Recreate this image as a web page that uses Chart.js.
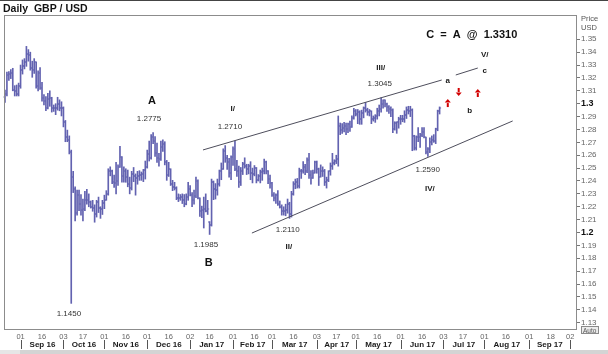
<!DOCTYPE html>
<html>
<head>
<meta charset="utf-8">
<script src="https://cdn.jsdelivr.net/npm/chart.js@4.4.0/dist/chart.umd.min.js"></script>
<style>
    html, body { margin: 0; padding: 0; background: #fff; }
</style>
</head>
<body>
<canvas id="gbpusd" width="608" height="354"></canvas>
<script>
// Daily GBP/USD, OHLC bars, Aug 22 2016 .. Jun 29 2017 (one value per weekday)
const firstDay = '2016-08-22';

const op = [
    1.3050,1.3075,1.3225,1.3230,1.3235, 1.3110,1.3100,1.3075,1.3135,1.3265,
    1.3290,1.3325,1.3385,1.3375,1.3275, 1.3265,1.3325,1.3140,1.3240,1.3125,
    1.3045,1.3020,1.2970,1.3035,1.3045, 1.2965,1.2970,1.2965,1.3000,1.2965,
    1.2970,1.2855,1.2745,1.2720,1.2625, 1.2430,1.2335,1.2155,1.2290,1.2225,
    1.2175,1.2180,1.2255,1.2255,1.2240, 1.2200,1.2190,1.2140,1.2240,1.2190,
    1.2180,1.2230,1.2255,1.2300,1.2475, 1.2480,1.2395,1.2385,1.2400,1.2505,
    1.2590,1.2440,1.2475,1.2430,1.2375, 1.2345,1.2455,1.2440,1.2420,1.2440,
    1.2445,1.2455,1.2485,1.2505,1.2610, 1.2580,1.2745,1.2710,1.2620,1.2575,
    1.2570,1.2665,1.2690,1.2550,1.2445, 1.2490,1.2380,1.2355,1.2345,1.2270,
    1.2270,1.2275,1.2250,1.2225,1.2275, 1.2340,1.2290,1.2255,1.2280,1.2400,
    1.2270,1.2170,1.2175,1.2185,1.2170, 1.2080,1.2055,1.2395,1.2340,1.2330,
    1.2375,1.2475,1.2490,1.2635,1.2580, 1.2550,1.2460,1.2585,1.2645,1.2490,
    1.2475,1.2390,1.2480,1.2530,1.2520, 1.2490,1.2515,1.2460,1.2455,1.2500,
    1.2410,1.2440,1.2470,1.2475,1.2545, 1.2475,1.2415,1.2385,1.2290,1.2265,
    1.2290,1.2225,1.2195,1.2165,1.2165, 1.2175,1.2220,1.2145,1.2300,1.2380,
    1.2395,1.2365,1.2475,1.2475,1.2505, 1.2480,1.2565,1.2445,1.2425,1.2465,
    1.2545,1.2490,1.2430,1.2475,1.2480, 1.2395,1.2410,1.2475,1.2520,1.2540,
    1.2555,1.2570,1.2830,1.2795,1.2815, 1.2825,1.2800,1.2840,1.2820,1.2890,
    1.2945,1.2920,1.2935,1.2880,1.2930, 1.2965,1.2950,1.2935,1.2945,1.2880,
    1.2890,1.2905,1.2945,1.2960,1.3000, 1.3025,1.2995,1.2975,1.2960,1.2950,
    1.2800,1.2850,1.2860,1.2885,1.2885, 1.2885,1.2915,1.2950,1.2945,1.2955,
    1.2750,1.2655,1.2740,1.2740,1.2760, 1.2780,1.2740,1.2625,1.2650,1.2705,
    1.2720,1.2710,1.2800,1.2940
];
const hi = [
    1.3105,1.3245,1.3250,1.3265,1.3275, 1.3140,1.3145,1.3160,1.3300,1.3340,
    1.3350,1.3445,1.3420,1.3400,1.3330, 1.3350,1.3325,1.3255,1.3280,1.3165,
    1.3070,1.3055,1.3080,1.3100,1.3050, 1.2990,1.3000,1.3050,1.3030,1.3015,
    1.2975,1.2870,1.2795,1.2750,1.2640, 1.2475,1.2355,1.2330,1.2330,1.2295,
    1.2260,1.2320,1.2335,1.2300,1.2245, 1.2250,1.2215,1.2250,1.2275,1.2200,
    1.2250,1.2290,1.2325,1.2495,1.2510, 1.2485,1.2445,1.2545,1.2525,1.2670,
    1.2590,1.2510,1.2495,1.2485,1.2430, 1.2475,1.2505,1.2455,1.2475,1.2480,
    1.2470,1.2490,1.2555,1.2640,1.2710, 1.2760,1.2775,1.2745,1.2695,1.2615,
    1.2710,1.2720,1.2705,1.2560,1.2545, 1.2495,1.2405,1.2390,1.2355,1.2300,
    1.2295,1.2300,1.2295,1.2300,1.2390, 1.2365,1.2310,1.2330,1.2430,1.2410,
    1.2270,1.2205,1.2275,1.2300,1.2250, 1.2085,1.2415,1.2400,1.2380,1.2415,
    1.2485,1.2540,1.2650,1.2675,1.2600, 1.2575,1.2595,1.2665,1.2710,1.2560,
    1.2515,1.2505,1.2545,1.2580,1.2530, 1.2530,1.2550,1.2500,1.2520,1.2505,
    1.2450,1.2485,1.2500,1.2570,1.2555, 1.2480,1.2445,1.2390,1.2310,1.2300,
    1.2325,1.2245,1.2215,1.2200,1.2220, 1.2260,1.2235,1.2320,1.2395,1.2415,
    1.2420,1.2500,1.2490,1.2550,1.2530, 1.2580,1.2615,1.2480,1.2485,1.2555,
    1.2555,1.2500,1.2525,1.2510,1.2490, 1.2430,1.2480,1.2540,1.2615,1.2565,
    1.2600,1.2905,1.2850,1.2845,1.2855, 1.2850,1.2850,1.2865,1.2905,1.2965,
    1.2955,1.2955,1.2945,1.2950,1.2975, 1.3010,1.2965,1.2955,1.2945,1.2905,
    1.2915,1.2965,1.2990,1.3045,1.3030, 1.3030,1.3005,1.2985,1.2975,1.2960,
    1.2860,1.2860,1.2895,1.2910,1.2910, 1.2945,1.2975,1.2980,1.2980,1.2960,
    1.2755,1.2750,1.2815,1.2770,1.2815, 1.2815,1.2740,1.2660,1.2735,1.2750,
    1.2760,1.2810,1.2950,1.2975
];
const lo = [
    1.3010,1.3060,1.3180,1.3195,1.3100, 1.3060,1.3060,1.3060,1.3120,1.3230,
    1.3270,1.3290,1.3330,1.3260,1.3205, 1.3235,1.3120,1.3100,1.3110,1.3020,
    1.2990,1.2945,1.2960,1.2980,1.2935, 1.2940,1.2915,1.2950,1.2945,1.2905,
    1.2820,1.2705,1.2705,1.2610,1.1450, 1.2310,1.2090,1.2135,1.2170,1.2135,
    1.2090,1.2170,1.2220,1.2200,1.2190, 1.2165,1.2080,1.2120,1.2155,1.2110,
    1.2140,1.2185,1.2250,1.2290,1.2440, 1.2380,1.2350,1.2300,1.2365,1.2505,
    1.2390,1.2390,1.2390,1.2355,1.2300, 1.2330,1.2395,1.2290,1.2375,1.2405,
    1.2405,1.2395,1.2415,1.2500,1.2555, 1.2570,1.2690,1.2590,1.2545,1.2515,
    1.2560,1.2630,1.2525,1.2405,1.2435, 1.2365,1.2325,1.2330,1.2255,1.2240,
    1.2250,1.2225,1.2200,1.2215,1.2250, 1.2285,1.2200,1.2220,1.2270,1.2260,
    1.2125,1.2115,1.2035,1.2160,1.2140, 1.1985,1.2050,1.2255,1.2260,1.2290,
    1.2360,1.2410,1.2490,1.2545,1.2490, 1.2430,1.2410,1.2520,1.2480,1.2435,
    1.2350,1.2365,1.2450,1.2500,1.2450, 1.2455,1.2410,1.2385,1.2440,1.2385,
    1.2400,1.2385,1.2405,1.2455,1.2455, 1.2380,1.2345,1.2280,1.2245,1.2225,
    1.2210,1.2190,1.2135,1.2135,1.2130, 1.2150,1.2110,1.2120,1.2290,1.2340,
    1.2345,1.2345,1.2420,1.2460,1.2450, 1.2465,1.2420,1.2375,1.2420,1.2460,
    1.2460,1.2365,1.2430,1.2435,1.2365, 1.2345,1.2395,1.2445,1.2490,1.2525,
    1.2535,1.2515,1.2760,1.2770,1.2780, 1.2760,1.2775,1.2785,1.2815,1.2880,
    1.2905,1.2845,1.2840,1.2840,1.2890, 1.2935,1.2910,1.2905,1.2845,1.2865,
    1.2855,1.2880,1.2905,1.2935,1.2965, 1.2975,1.2940,1.2925,1.2900,1.2775,
    1.2795,1.2770,1.2810,1.2840,1.2860, 1.2855,1.2885,1.2920,1.2900,1.2635,
    1.2640,1.2640,1.2705,1.2660,1.2745, 1.2735,1.2610,1.2590,1.2620,1.2680,
    1.2700,1.2690,1.2790,1.2920
];
const cl = [
    1.3075,1.3225,1.3230,1.3235,1.3110, 1.3100,1.3075,1.3135,1.3265,1.3290,
    1.3325,1.3385,1.3375,1.3275,1.3265, 1.3325,1.3140,1.3240,1.3125,1.3045,
    1.3020,1.2970,1.3035,1.3045,1.2965, 1.2970,1.2965,1.3000,1.2965,1.2970,
    1.2855,1.2745,1.2720,1.2625,1.2430, 1.2335,1.2155,1.2290,1.2225,1.2175,
    1.2180,1.2255,1.2255,1.2240,1.2200, 1.2190,1.2140,1.2240,1.2190,1.2180,
    1.2230,1.2255,1.2300,1.2475,1.2480, 1.2395,1.2385,1.2400,1.2505,1.2590,
    1.2440,1.2475,1.2430,1.2375,1.2345, 1.2455,1.2440,1.2420,1.2440,1.2445,
    1.2455,1.2485,1.2505,1.2610,1.2580, 1.2745,1.2710,1.2620,1.2575,1.2570,
    1.2665,1.2690,1.2550,1.2445,1.2490, 1.2380,1.2355,1.2345,1.2270,1.2270,
    1.2275,1.2250,1.2225,1.2275,1.2340, 1.2290,1.2255,1.2280,1.2400,1.2270,
    1.2170,1.2175,1.2185,1.2170,1.2180, 1.2055,1.2395,1.2340,1.2330,1.2375,
    1.2475,1.2490,1.2635,1.2580,1.2550, 1.2460,1.2585,1.2645,1.2490,1.2475,
    1.2390,1.2480,1.2530,1.2520,1.2490, 1.2515,1.2460,1.2455,1.2500,1.2410,
    1.2440,1.2470,1.2475,1.2545,1.2475, 1.2415,1.2385,1.2290,1.2265,1.2290,
    1.2225,1.2195,1.2165,1.2165,1.2175, 1.2220,1.2145,1.2300,1.2380,1.2395,
    1.2365,1.2475,1.2475,1.2505,1.2480, 1.2565,1.2445,1.2425,1.2465,1.2545,
    1.2490,1.2430,1.2475,1.2480,1.2395, 1.2410,1.2475,1.2520,1.2540,1.2555,
    1.2570,1.2830,1.2795,1.2815,1.2825, 1.2800,1.2840,1.2820,1.2890,1.2945,
    1.2920,1.2935,1.2880,1.2930,1.2965, 1.2950,1.2935,1.2945,1.2880,1.2890,
    1.2905,1.2945,1.2960,1.3000,1.3025, 1.2995,1.2975,1.2960,1.2950,1.2800,
    1.2850,1.2860,1.2885,1.2885,1.2885, 1.2915,1.2950,1.2945,1.2955,1.2750,
    1.2655,1.2740,1.2740,1.2760,1.2780, 1.2740,1.2625,1.2650,1.2705,1.2720,
    1.2710,1.2800,1.2940,1.2965
];

// axis labels
const tickDates = [
    '2016-09-01','2016-09-16','2016-10-03','2016-10-17','2016-11-01','2016-11-16',
    '2016-12-01','2016-12-16','2017-01-02','2017-01-16','2017-02-01','2017-02-16',
    '2017-03-01','2017-03-16','2017-04-03','2017-04-17','2017-05-01','2017-05-16',
    '2017-06-01','2017-06-16','2017-07-03','2017-07-17','2017-08-01','2017-08-16',
    '2017-09-01','2017-09-18','2017-10-02'
];
const months = ['Sep 16','Oct 16','Nov 16','Dec 16','Jan 17','Feb 17','Mar 17',
    'Apr 17','May 17','Jun 17','Jul 17','Aug 17','Sep 17'];
const monthStarts = ['2016-09-01','2016-10-03','2016-11-01','2016-12-01','2017-01-02',
    '2017-02-01','2017-03-01','2017-04-03','2017-05-01','2017-06-01','2017-07-03',
    '2017-08-01','2017-09-01','2017-10-02'];
const priceTicks = [1.13,1.14,1.15,1.16,1.17,1.18,1.19,1.2,1.21,1.22,1.23,1.24,
    1.25,1.26,1.27,1.28,1.29,1.3,1.31,1.32,1.33,1.34,1.35];
const boldTicks = [1.2, 1.3];

// channel lines (day index, price)
const upperX = [101.6, 224.1], upperY = [1.2641, 1.3184];
const lowerX = [126.7, 260.5], lowerY = [1.1996, 1.2866];
const shortX = [231.3, 242.6], shortY = [1.3223, 1.3277];

// wave labels: text, day index, price, kind
const notes = [
    ['A', 75.4, 1.3021, 'big'], ['1.2775', 73.9, 1.2881, 'num'],
    ['I/', 116.9, 1.2959, 'wave'], ['1.2710', 115.4, 1.2819, 'num'],
    ['B', 104.6, 1.1763, 'big'], ['1.1985', 103.1, 1.1903, 'num'],
    ['II/', 145.7, 1.1887, 'wave'], ['1.2110', 145.1, 1.2019, 'num'],
    ['III/', 192.8, 1.3277, 'wave'], ['1.3045', 192.3, 1.3153, 'num'],
    ['IV/', 218.0, 1.2338, 'wave'], ['1.2590', 216.9, 1.2486, 'num'],
    ['V/', 246.2, 1.3378, 'wave'],
    ['a', 227.2, 1.3176, 'wave'], ['b', 238.5, 1.2943, 'wave'], ['c', 246.2, 1.3254, 'wave'],
    ['C  =  A  @  1.3310', 239.5, 1.3533, 'big'],
    ['1.1450', 32.8, 1.1367, 'num']
];
const arrows = [[227.2, 1.3005, 'up'], [232.8, 1.3091, 'down'], [242.6, 1.3083, 'up']];

const BAR = '#6262b0';
const LINE = '#4e4e5c';
const FONT = "'Liberation Sans', Arial, sans-serif";

function dayIndex(s) {
    const [y0, m0, d0] = firstDay.split('-').map(Number);
    const [y, m, d] = s.split('-').map(Number);
    const days = Math.round((Date.UTC(y, m - 1, d) - Date.UTC(y0, m0 - 1, d0)) / 864e5);
    return Math.floor(days / 7) * 5 + Math.min(days % 7, 5);
}

const decor = {
    id: 'decor',
    beforeDraw(chart) {
        const ctx = chart.ctx;
        ctx.save();
        ctx.fillStyle = '#fff';
        ctx.fillRect(0, 0, chart.width, chart.height);
        ctx.restore();
    },
    afterDatasetsDraw(chart) {
        // open / close ticks
        const ctx = chart.ctx, ys = chart.scales.y;
        const meta = chart.getDatasetMeta(0);
        ctx.save();
        ctx.fillStyle = BAR;
        meta.data.forEach((bar, i) => {
            const yo = Math.round(ys.getPixelForValue(op[i]));
            const yc = Math.round(ys.getPixelForValue(cl[i]));
            ctx.fillRect(bar.x - 1.5, yo - 0.5, 1, 1);
            ctx.fillRect(bar.x + 0.5, yc - 0.5, 1, 1);
        });
        ctx.restore();
    },
    afterDraw(chart) {
        const ctx = chart.ctx, a = chart.chartArea;
        const xs = chart.scales.x, ys = chart.scales.y;
        ctx.save();

        // frame
        ctx.strokeStyle = '#8c8c8c';
        ctx.lineWidth = 1;
        ctx.strokeRect(Math.round(a.left) + 0.5, Math.round(a.top) + 0.5,
            Math.round(a.right - a.left) - 1, Math.round(a.bottom - a.top) - 1);
        ctx.fillStyle = '#444';
        ctx.fillRect(0, 0, chart.width, 1);

        // title + axis caption
        ctx.fillStyle = '#111';
        ctx.textBaseline = 'alphabetic';
        ctx.textAlign = 'left';
        ctx.font = 'bold 10.5px ' + FONT;
        ctx.fillText('Daily  GBP / USD', 3, 12);
        ctx.fillStyle = '#555';
        ctx.font = '7.5px ' + FONT;
        ctx.fillText('Price', 581, 21);
        ctx.fillText('USD', 581, 30);

        // Auto box
        ctx.fillStyle = '#ececec';
        ctx.fillRect(581.5, 326.5, 17, 7);
        ctx.strokeStyle = '#8a8a8a';
        ctx.strokeRect(581.5, 326.5, 17, 7);
        ctx.fillStyle = '#555';
        ctx.font = '6.5px ' + FONT;
        ctx.fillText('Auto', 583, 332.5);

        // month row
        ctx.font = 'bold 8px ' + FONT;
        ctx.textAlign = 'center';
        ctx.textBaseline = 'middle';
        ctx.strokeStyle = '#555';
        monthStarts.forEach((d, k) => {
            const x = Math.round(xs.getPixelForValue(dayIndex(d))) + 0.5;
            ctx.beginPath();
            ctx.moveTo(x, 340);
            ctx.lineTo(x, 349);
            ctx.stroke();
            if (k < months.length) {
                const x2 = xs.getPixelForValue(dayIndex(monthStarts[k + 1]));
                ctx.fillStyle = '#1a1a1a';
                ctx.fillText(months[k], (x + x2) / 2, 345);
            }
        });

        // scroll strip
        ctx.fillStyle = '#d4d4d4';
        ctx.fillRect(0, 350, chart.width, 4);
        ctx.fillStyle = '#e6e6e6';
        ctx.fillRect(0, 350, 20, 4);

        // wave labels
        const fonts = { big: 'bold 11px ' + FONT, wave: 'bold 8px ' + FONT, num: '8px ' + FONT };
        const colors = { big: '#111', wave: '#1a1a1a', num: '#333' };
        notes.forEach(([t, x, y, kind]) => {
            ctx.font = fonts[kind];
            ctx.fillStyle = colors[kind];
            ctx.fillText(t, xs.getPixelForValue(x), ys.getPixelForValue(y));
        });

        // red arrows
        ctx.fillStyle = '#d20000';
        arrows.forEach(([x, y, dir]) => {
            const px = xs.getPixelForValue(x), py = ys.getPixelForValue(y);
            const d = dir === 'up' ? -1 : 1;
            ctx.beginPath();
            ctx.moveTo(px, py + d * 4);
            ctx.lineTo(px - 3, py + d * 0.5);
            ctx.lineTo(px + 3, py + d * 0.5);
            ctx.closePath();
            ctx.fill();
            ctx.fillRect(px - 1, d < 0 ? py : py - 4, 2, 4);
        });
        ctx.restore();
    }
};

const lineSet = (xsArr, ysArr) => ({
    type: 'line',
    data: xsArr.map((x, i) => ({ x: x, y: ysArr[i] })),
    borderColor: LINE,
    borderWidth: 1,
    pointRadius: 0,
    order: 0
});

new Chart(document.getElementById('gbpusd'), {
    type: 'bar',
    data: {
        datasets: [
            {
                data: hi.map((h, i) => ({ x: i, y: [lo[i], h] })),
                backgroundColor: BAR,
                borderWidth: 0,
                barThickness: 1,
                grouped: false,
                order: 1
            },
            lineSet(upperX, upperY),
            lineSet(lowerX, lowerY),
            lineSet(shortX, shortY)
        ]
    },
    options: {
        responsive: false,
        animation: false,
        events: [],
        layout: { padding: { left: 4, top: 15, right: 0, bottom: 0 } },
        plugins: { legend: { display: false }, tooltip: { enabled: false } },
        scales: {
            x: {
                type: 'linear',
                min: -0.5,
                max: 293.5,
                offset: false,
                afterBuildTicks: s => { s.ticks = tickDates.map(d => ({ value: dayIndex(d) })); },
                afterFit: s => { s.height = 24; },
                ticks: {
                    autoSkip: false,
                    maxRotation: 0,
                    padding: 2,
                    color: '#666',
                    font: { family: FONT, size: 7.5 },
                    callback: (v, i) => tickDates[i] ? tickDates[i].slice(8) : ''
                },
                grid: { display: false, drawTicks: false },
                border: { display: false }
            },
            y: {
                position: 'right',
                min: 1.12433,
                max: 1.36886,
                afterBuildTicks: s => { s.ticks = priceTicks.map(v => ({ value: v })); },
                afterFit: s => { s.width = 31; },
                ticks: {
                    padding: 1,
                    color: c => boldTicks.includes(c.tick && c.tick.value) ? '#111' : '#666',
                    font: c => boldTicks.includes(c.tick && c.tick.value)
                        ? { family: FONT, size: 9, weight: 'bold' }
                        : { family: FONT, size: 8 },
                    callback: v => String(+v.toFixed(2))
                },
                grid: { display: true, drawOnChartArea: false, tickLength: 3, color: '#777' },
                border: { display: false }
            }
        }
    },
    plugins: [decor]
});
</script>
</body>
</html>
